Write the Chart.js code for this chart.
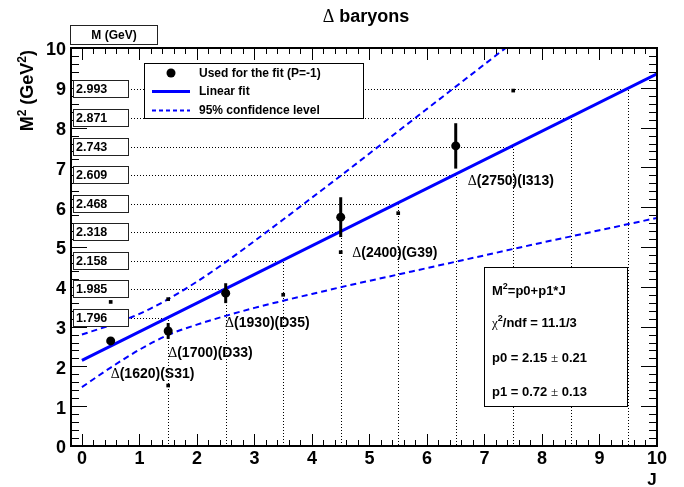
<!DOCTYPE html>
<html lang="en">
<head>
    <meta charset="UTF-8">
    <title>Delta baryons - Regge trajectory</title>
    <script src="https://cdn.jsdelivr.net/npm/chart.js"></script>
    <style>
        body { margin: 0; background: #fff; }
        #wrap { width: 684px; height: 487px; }
    </style>
</head>
<body>
    <div id="wrap"><canvas id="regge" width="684" height="487"></canvas></div>

    <script>
        // states used for the fit (big dots with error bars)
        const fitJ = [0.5, 1.5, 2.5, 4.5, 6.5];
        const fitM2 = [2.64, 2.89, 3.84, 5.75, 7.54];
        const fitErr = [0.06, 0.2, 0.25, 0.5, 0.57];

        // other states (small squares)
        const otherJ = [0.5, 1.5, 1.5, 3.5, 4.5, 5.5, 7.5];
        const otherM2 = [3.62, 1.52, 3.69, 3.8, 4.87, 5.85, 8.93];

        // linear fit M2 = p0 + p1*J, end points
        const lineJ = [0, 10];
        const lineM2 = [2.15, 9.35];

        // 95% confidence band
        const bandJ = [0, 0.5, 1, 1.5, 2, 2.5, 3, 3.5, 4, 4.5, 5, 5.5, 6, 7, 8, 9, 10];
        const bandUp = [2.80, 3.04, 3.32, 3.69, 4.13, 4.62, 5.15, 5.69, 6.24, 6.79, 7.35, 7.91, 8.47, 9.59, 10.71, 11.84, 12.97];
        const bandLow = [1.48, 1.97, 2.42, 2.79, 3.05, 3.27, 3.47, 3.65, 3.82, 3.99, 4.15, 4.31, 4.47, 4.79, 5.11, 5.42, 5.73];

        // predicted masses at half-integer J (left boxes + dotted guides)
        const guideJ = [1.5, 2.5, 3.5, 4.5, 5.5, 6.5, 7.5, 8.5, 9.5];
        const massLabels = ['1.796', '1.985', '2.158', '2.318', '2.468', '2.609', '2.743', '2.871', '2.993'];

        const xTicks = [0, 1, 2, 3, 4, 5, 6, 7, 8, 9, 10];
        const yTicks = [0, 1, 2, 3, 4, 5, 6, 7, 8, 9, 10];

        // state names, anchored left of the text in data coordinates
        const stateNames = ['(1620)(S31)', '(1700)(D33)', '(1930)(D35)', '(2400)(G39)', '(2750)(I313)'];
        const stateLabelJ = [0.50, 1.50, 2.49, 4.70, 6.71];
        const stateLabelM2 = [1.83, 2.36, 3.12, 4.87, 6.68];

        const SANS = '"Liberation Sans", Arial, Helvetica, sans-serif';
        const SYM = '"Liberation Serif", "Times New Roman", serif';
        const BLUE = '#0000ff';

        // draw a run of text pieces: [text, kind] kind = 'b' bold, 's' symbol, 'sup' superscript
        function rich(ctx, parts, x, y, size, align) {
            const fontOf = k => k === 's' ? size + 'px ' + SYM
                : k === 'sup' ? 'bold ' + Math.round(size * 0.68) + 'px ' + SANS
                : 'bold ' + size + 'px ' + SANS;
            let w = 0;
            parts.forEach(p => { ctx.font = fontOf(p[1]); w += ctx.measureText(p[0]).width; });
            let cx = align === 'center' ? x - w / 2 : align === 'right' ? x - w : x;
            ctx.textAlign = 'left';
            ctx.textBaseline = 'alphabetic';
            parts.forEach(p => {
                ctx.font = fontOf(p[1]);
                const dy = p[1] === 'sup' ? -size * 0.42 : 0;
                ctx.fillText(p[0], cx, y + size * 0.36 + dy);
                cx += ctx.measureText(p[0]).width;
            });
            return w;
        }

        const rootStyle = {
            id: 'rootStyle',
            beforeDraw(chart) {
                const ctx = chart.ctx;
                ctx.save();
                ctx.fillStyle = '#fff';
                ctx.fillRect(0, 0, chart.width, chart.height);
                ctx.restore();
            },
            beforeDatasetsDraw(chart) {
                const { ctx, scales: { x, y }, chartArea: a } = chart;
                ctx.save();
                ctx.strokeStyle = '#000';
                ctx.lineWidth = 1;
                ctx.setLineDash([1, 2]);
                guideJ.forEach((j, i) => {
                    const m = parseFloat(massLabels[i]);
                    const py = Math.round(y.getPixelForValue(m * m)) + 0.5;
                    const px = Math.round(x.getPixelForValue(j)) + 0.5;
                    ctx.beginPath();
                    ctx.moveTo(a.left, py);
                    ctx.lineTo(px, py);
                    ctx.lineTo(px, a.bottom);
                    ctx.stroke();
                });
                ctx.restore();
            },
            afterDatasetsDraw(chart) {
                const { ctx, scales: { x, y } } = chart;
                ctx.save();
                ctx.strokeStyle = '#000';
                ctx.lineWidth = 3;
                fitJ.forEach((j, i) => {
                    const px = x.getPixelForValue(j);
                    ctx.beginPath();
                    ctx.moveTo(px, y.getPixelForValue(fitM2[i] - fitErr[i]));
                    ctx.lineTo(px, y.getPixelForValue(fitM2[i] + fitErr[i]));
                    ctx.stroke();
                });
                ctx.restore();
            },
            afterDraw(chart) {
                const { ctx, scales: { x, y }, chartArea: a } = chart;
                ctx.save();
                ctx.fillStyle = '#000';
                ctx.strokeStyle = '#000';

                // ticks, all pointing inside the frame
                ctx.lineWidth = 1;
                for (let i = 0; i <= 50; i++) {
                    const v = i / 5;
                    const major = i % 5 === 0;
                    const px = Math.round(x.getPixelForValue(v)) + 0.5;
                    const lx = major ? 12 : 6;
                    ctx.beginPath();
                    ctx.moveTo(px, a.bottom); ctx.lineTo(px, a.bottom - lx);
                    ctx.moveTo(px, a.top); ctx.lineTo(px, a.top + lx);
                    const py = Math.round(y.getPixelForValue(v)) + 0.5;
                    const ly = major ? 16 : 8;
                    ctx.moveTo(a.left, py); ctx.lineTo(a.left + ly, py);
                    ctx.moveTo(a.right, py); ctx.lineTo(a.right - ly, py);
                    ctx.stroke();
                }

                // frame
                ctx.lineWidth = 2;
                ctx.strokeRect(a.left, a.top, a.right - a.left, a.bottom - a.top);

                // mass boxes on the left
                ctx.lineWidth = 1;
                guideJ.forEach((j, i) => {
                    const m = parseFloat(massLabels[i]);
                    const py = Math.round(y.getPixelForValue(m * m));
                    ctx.fillStyle = '#fff';
                    ctx.fillRect(73.5, py - 8.5, 55, 17);
                    ctx.strokeStyle = '#222';
                    ctx.strokeRect(73.5, py - 8.5, 55, 17);
                    ctx.fillStyle = '#000';
                    ctx.font = 'bold 12.5px ' + SANS;
                    ctx.textAlign = 'left';
                    ctx.textBaseline = 'middle';
                    ctx.fillText(massLabels[i], 76, py + 1);
                });

                // "M (GeV)" box
                ctx.fillStyle = '#fff';
                ctx.fillRect(70.5, 25.5, 87, 19);
                ctx.strokeStyle = '#222';
                ctx.strokeRect(70.5, 25.5, 87, 19);
                ctx.fillStyle = '#000';
                ctx.font = 'bold 12px ' + SANS;
                ctx.textAlign = 'center';
                ctx.textBaseline = 'middle';
                ctx.fillText('M (GeV)', 114, 35.5);

                // tick labels
                ctx.font = 'bold 18px ' + SANS;
                ctx.textAlign = 'right';
                ctx.textBaseline = 'middle';
                yTicks.forEach(v => ctx.fillText(String(v), 66, y.getPixelForValue(v) + 2.5));
                ctx.textAlign = 'center';
                xTicks.forEach(v => ctx.fillText(String(v), x.getPixelForValue(v), 459));

                // axis titles
                ctx.font = 'bold 17px ' + SANS;
                ctx.fillText('J', 652, 480);
                ctx.save();
                ctx.translate(27, 50);
                ctx.rotate(-Math.PI / 2);
                rich(ctx, [['M', 'b'], ['2', 'sup'], [' (GeV', 'b'], ['2', 'sup'], [')', 'b']], 0, 0, 18, 'right');
                ctx.restore();

                // title
                rich(ctx, [['\u0394', 's'], [' baryons', 'b']], 366, 16, 18, 'center');

                // legend
                ctx.fillStyle = '#fff';
                ctx.fillRect(144.5, 63.5, 219, 55);
                ctx.strokeStyle = '#000';
                ctx.strokeRect(144.5, 63.5, 219, 55);
                ctx.fillStyle = '#000';
                ctx.beginPath();
                ctx.arc(171, 73, 4.5, 0, Math.PI * 2);
                ctx.fill();
                ctx.strokeStyle = BLUE;
                ctx.lineWidth = 3;
                ctx.beginPath(); ctx.moveTo(152, 91.5); ctx.lineTo(190, 91.5); ctx.stroke();
                ctx.lineWidth = 2;
                ctx.setLineDash([4, 3]);
                ctx.beginPath(); ctx.moveTo(152, 110.5); ctx.lineTo(190, 110.5); ctx.stroke();
                ctx.setLineDash([]);
                ctx.font = 'bold 12px ' + SANS;
                ctx.textAlign = 'left';
                ctx.textBaseline = 'middle';
                ctx.fillText('Used for the fit (P=-1)', 199, 73.5);
                ctx.fillText('Linear fit', 199, 92);
                ctx.fillText('95% confidence level', 199, 111);

                // fit result box
                ctx.fillStyle = '#fff';
                ctx.fillRect(484.5, 267.5, 143, 139);
                ctx.strokeStyle = '#000';
                ctx.lineWidth = 1;
                ctx.strokeRect(484.5, 267.5, 143, 139);
                ctx.fillStyle = '#000';
                rich(ctx, [['M', 'b'], ['2', 'sup'], ['=p0+p1*J', 'b']], 492, 290, 13, 'left');
                rich(ctx, [['\u03c7', 's'], ['2', 'sup'], ['/ndf = 11.1/3', 'b']], 492, 322, 13, 'left');
                rich(ctx, [['p0 = 2.15 ', 'b'], ['\u00b1', 's'], [' 0.21', 'b']], 492, 357, 13, 'left');
                rich(ctx, [['p1 = 0.72 ', 'b'], ['\u00b1', 's'], [' 0.13', 'b']], 492, 391, 13, 'left');

                // state names
                stateNames.forEach((s, i) => {
                    rich(ctx, [['\u0394', 's'], [s, 'b']], x.getPixelForValue(stateLabelJ[i]),
                        y.getPixelForValue(stateLabelM2[i]), 14, 'left');
                });

                ctx.restore();
            }
        };

        const pts = (xs, ys) => xs.map((v, i) => ({ x: v, y: ys[i] }));

        new Chart(document.getElementById('regge').getContext('2d'), {
            type: 'scatter',
            data: {
                datasets: [
                    {
                        label: 'Used for the fit (P=-1)',
                        data: pts(fitJ, fitM2),
                        pointRadius: 4.5,
                        pointBackgroundColor: '#000',
                        pointBorderWidth: 0,
                        showLine: false
                    },
                    {
                        label: 'Other states',
                        data: pts(otherJ, otherM2),
                        pointStyle: 'rect',
                        pointRadius: 2.6,
                        pointBackgroundColor: '#000',
                        pointBorderWidth: 0,
                        showLine: false
                    },
                    {
                        label: 'Linear fit',
                        data: pts(lineJ, lineM2),
                        showLine: true,
                        borderColor: BLUE,
                        borderWidth: 3,
                        pointRadius: 0,
                        clip: 0
                    },
                    {
                        label: '95% confidence level',
                        data: pts(bandJ, bandUp),
                        showLine: true,
                        borderColor: BLUE,
                        borderWidth: 2,
                        borderDash: [6, 4],
                        cubicInterpolationMode: 'monotone',
                        pointRadius: 0,
                        clip: 0
                    },
                    {
                        label: '95% confidence level (low)',
                        data: pts(bandJ, bandLow),
                        showLine: true,
                        borderColor: BLUE,
                        borderWidth: 2,
                        borderDash: [6, 4],
                        cubicInterpolationMode: 'monotone',
                        pointRadius: 0,
                        clip: 0
                    }
                ]
            },
            options: {
                responsive: false,
                animation: false,
                layout: { padding: { left: 71, right: 27, top: 48, bottom: 41 } },
                plugins: {
                    legend: { display: false },
                    tooltip: { enabled: false }
                },
                scales: {
                    x: { type: 'linear', min: -0.19, max: 10, display: false },
                    y: { type: 'linear', min: 0, max: 10, display: false }
                }
            },
            plugins: [rootStyle]
        });
    </script>
</body>
</html>
